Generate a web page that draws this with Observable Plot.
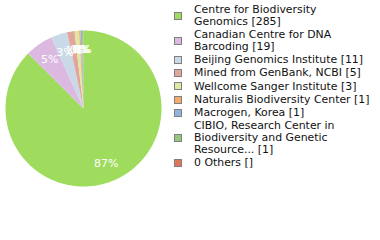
<!DOCTYPE html>
<html><head><meta charset="utf-8">
<script src="https://cdn.jsdelivr.net/npm/d3@7"></script>
<script src="https://cdn.jsdelivr.net/npm/@observablehq/plot@0.6"></script>
<style>
html,body{margin:0;padding:0;background:#fff;}
#wrap{position:relative;width:380px;height:240px;overflow:hidden;}
#chart{position:absolute;left:0;top:0;}
#legend{position:absolute;left:174px;top:4px;font-family:"DejaVu Sans",sans-serif;font-size:10.9px;color:#111;}
.item{display:flex;align-items:center;margin-bottom:1.6px;}
.sw{width:6px;height:6px;border:1px solid #808080;flex:none;margin-right:12px;}
.lb{white-space:pre;line-height:11.7px;}
</style></head>
<body><div id="wrap"><div id="chart"></div><div id="legend"></div></div>
<script>
const categories = ["Centre for Biodiversity\nGenomics","Canadian Centre for DNA\nBarcoding","Beijing Genomics Institute","Mined from GenBank, NCBI","Wellcome Sanger Institute","Naturalis Biodiversity Center","Macrogen, Korea","CIBIO, Research Center in\nBiodiversity and Genetic\nResource...","0 Others"];
const counts = [285,19,11,5,3,1,1,1,null];
const colors = ["#9fdb5d","#dcb9e1","#c9d9e7","#e1a59b","#dfe7a1","#f2ab6d","#92b4dc","#98c47b","#e0755a"];

const total = d3.sum(counts.filter(c => c != null));
const slices = categories.map((c,i)=>({category:c,count:counts[i],color:colors[i]})).filter(d=>d.count>0);
let acc = 0;
const poly = [], labels = [];
for (const s of slices) {
  const a0 = acc/total*2*Math.PI, a1 = (acc+s.count)/total*2*Math.PI;
  const n = Math.max(2, Math.ceil((a1-a0)/0.02));
  poly.push({category:s.category,x:0,y:0});
  for (let k=0;k<=n;k++){const a=a0+(a1-a0)*k/n; poly.push({category:s.category,x:Math.sin(a),y:Math.cos(a)});}
  poly.push({category:s.category,x:0,y:0});
  const am=(a0+a1)/2;
  labels.push({x:0.76*Math.sin(am),y:0.76*Math.cos(am),text:Math.floor(s.count/total*100)+"%"});
  acc += s.count;
}
const plot = Plot.plot({
  width:380,height:240,margin:0,
  x:{domain:[-1,1],range:[5,161],axis:null},
  y:{domain:[-1,1],range:[186,30],axis:null},
  color:{domain:categories,range:colors},
  style:{background:"transparent"},
  marks:[
    Plot.line(poly,{x:"x",y:"y",z:"category",fill:"category",stroke:"none",curve:"linear"}),
    Plot.text(labels,{x:"x",y:"y",text:"text",fill:"white",fontSize:11,fontFamily:"DejaVu Sans",style:"letter-spacing:1.6px"})
  ]
});
document.getElementById("chart").appendChild(plot);
const lg = document.getElementById("legend");
categories.forEach((c,i)=>{
  const it=document.createElement("div");it.className="item";
  const sw=document.createElement("div");sw.className="sw";sw.style.background=colors[i];
  const lb=document.createElement("div");lb.className="lb";lb.textContent=c+" ["+(counts[i]==null?"":counts[i])+"]";
  it.appendChild(sw);it.appendChild(lb);lg.appendChild(it);
});
</script></body></html>
